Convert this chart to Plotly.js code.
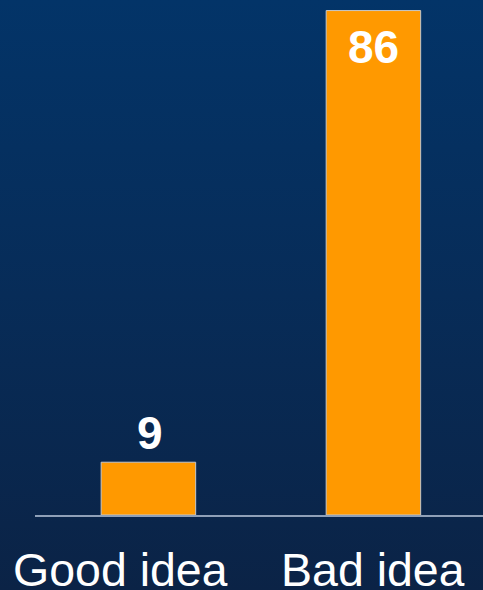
<!DOCTYPE html>
<html>
<head>
<meta charset="utf-8">
<script src="https://cdn.plot.ly/plotly-3.0.1.min.js"></script>
<style>
html, body { margin:0; padding:0; width:483px; height:590px; overflow:hidden;
  background: linear-gradient(to bottom, #033468 0%, #072c58 50%, #0b2346 100%); }
#chart { width:483px; height:590px; }
</style>
</head>
<body>
<div id="chart"></div>
<script>
const categories = ["Good idea", "Bad idea"];
const values = [9, 86];

const labelShift = [-28, 0];
const valueShift = [2, 0];
const valueAnn = values.map((v, i) => {
  const inside = v > 50;
  return {
    x: categories[i], y: v, xref: 'x', yref: 'y',
    text: '<b>' + v + '</b>', showarrow: false,
    yanchor: inside ? 'top' : 'bottom',
    yshift: inside ? -8 : 1, xshift: valueShift[i],
    font: { family: 'Liberation Sans, Arial, sans-serif', size: 46, color: '#ffffff' }
  };
});
const catAnn = categories.map((c, i) => ({
  x: c, y: 0, xref: 'x', yref: 'paper', text: c, showarrow: false,
  yanchor: 'bottom', height: 36, valign: 'middle', borderpad: 0,
  yshift: -74, xshift: labelShift[i],
  font: { family: 'Liberation Sans, Arial, sans-serif', size: 46.5, color: '#ffffff' }
}));

const trace = {
  type: 'bar', x: categories, y: values,
  width: 0.42,
  marker: { color: '#ff9900', line: { color: '#c8c8c8', width: 1 } },
  hoverinfo: 'none'
};

const layout = {
  width: 483, height: 590,
  margin: { l: 35, r: 0, t: 0, b: 75 },
  paper_bgcolor: 'rgba(0,0,0,0)', plot_bgcolor: 'rgba(0,0,0,0)',
  showlegend: false,
  xaxis: { range: [-0.504, 1.487], showticklabels: false, showline: true,
    linecolor: '#8fa0b8', linewidth: 1.5, ticks: '', showgrid: false, zeroline: false, fixedrange: true },
  yaxis: { range: [0, 87.8], visible: false, showgrid: false, zeroline: false, fixedrange: true },
  annotations: valueAnn.concat(catAnn)
};

Plotly.newPlot('chart', [trace], layout, { displayModeBar: false, staticPlot: true });
</script>
</body>
</html>
